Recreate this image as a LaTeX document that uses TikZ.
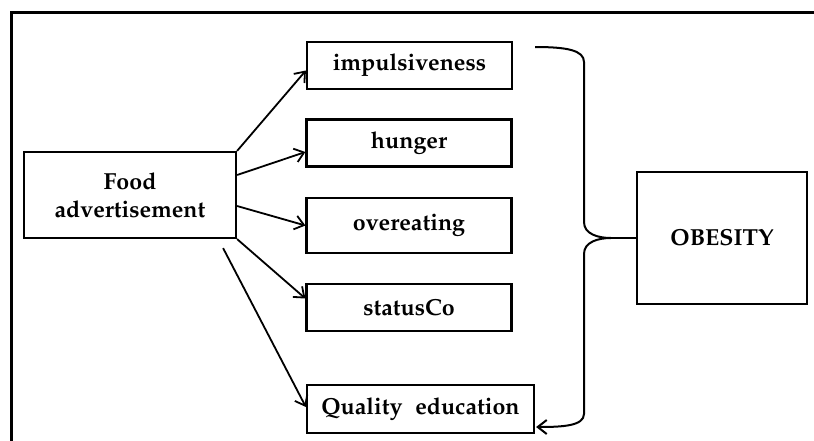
\documentclass[tikz,border=0pt]{standalone}
\usepackage[T1]{fontenc}
\usepackage{mathpazo}
\usetikzlibrary{positioning,arrows.meta}

\begin{document}
\begin{tikzpicture}[
  x=0.5pt, y=-0.5pt,
  box/.style={draw=black, line width=1.1pt, align=center, inner sep=2pt,
              font=\fontsize{11.6}{14.2}\selectfont\bfseries,
              minimum width=#1, minimum height=23.5pt},
  box/.default=102.5pt,
  seta/.style={-{Straight Barb[length=4.5pt,width=7pt]}, line width=0.9pt},
  chave/.style={line width=1pt},
  moldura/.style={line width=1.5pt},
]
\useasboundingbox (0,0) rectangle (814,440);
\clip (0,0) rectangle (814,440);
% ---- moldura
\draw[moldura] (11,470) -- (11,12) -- (840,12);

% ---- causa
\node[box=106pt, minimum height=43pt] (food) at (130,195) {Food\\ advertisement};

% ---- fatores
\node[box] (impuls) at (409.5,65.5) {impulsiveness};
\node[box] (hunger) at (409,143) {hunger};
\node[box, minimum height=27.5pt] (overeat) at (409,225.5) {overeating};
\node[box] (status) at (409,307.5) {statusCo};
\node[box=113.5pt, minimum height=24pt] (quality) at (420.5,409) {Quality\hspace{0.55em}education};

% ---- efeito
\node[box=85pt, minimum height=66pt] (obesity) at (722,238) {OBESITY};

% ---- Setas
\draw[seta] (food.north east) -- ([yshift=-2.5pt]impuls.west);
\draw[seta] ([yshift=10pt]food.east) -- ([yshift=-4.5pt]hunger.west);
\draw[seta] ([yshift=-5.5pt]food.east) -- (overeat.west);
\draw[seta] (food.south east) -- ([yshift=4.5pt]status.west);
\draw[seta] ([xshift=-7pt,yshift=-4.5pt]food.south east) -- ([yshift=1pt]quality.west);

% ---- Chave
\coordinate (tip) at ([xshift=-12.5pt]obesity.west);
\draw[chave] (obesity.west) -- (tip);
\draw[chave, -{Straight Barb[length=4.5pt,width=7pt]}]
  ([xshift=11pt,yshift=9.25pt]impuls.east) .. controls (566,47) and (584,50) .. (584,62)
  -- (584,222) .. controls (584,234) and (598,238) .. (tip)
  .. controls (598,238) and (584,242) .. (584,254)
  -- (584,414) .. controls (584,426) and (562,427) .. ([xshift=0.5pt,yshift=-9pt]quality.east);
\end{tikzpicture}
\end{document}
